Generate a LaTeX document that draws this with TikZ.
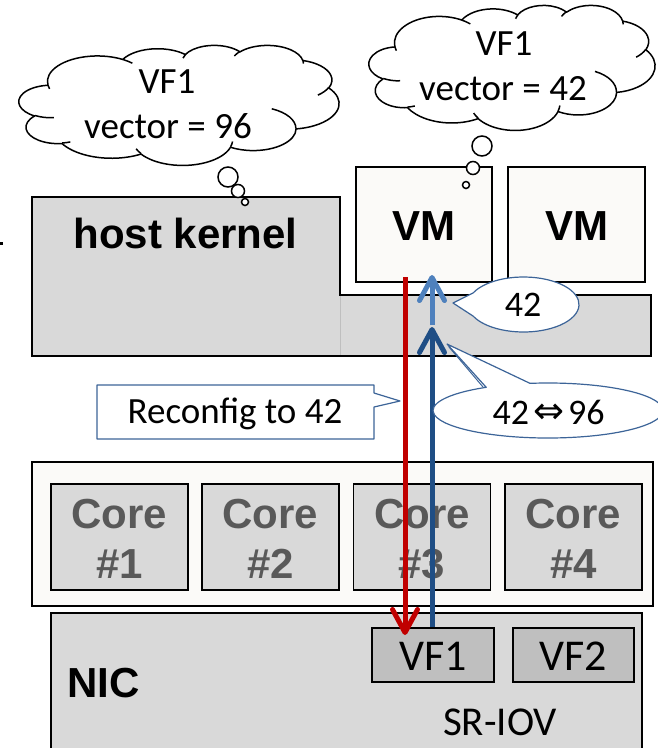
\documentclass[tikz,border=0pt]{standalone}
\usepackage{fontspec}
\setmainfont{Carlito}
\newfontfamily\arialfont{Liberation Sans}
\newfontfamily\symfont{DejaVu Sans}
\usetikzlibrary{arrows.meta}

\definecolor{boxgray}{HTML}{D9D9D9}
\definecolor{vfgray}{HTML}{BFBFBF}
\definecolor{offwhite}{HTML}{FBFAF8}
\definecolor{coretext}{HTML}{595959}
\definecolor{redarr}{HTML}{C00000}
\definecolor{lightarr}{HTML}{4F81BD}
\definecolor{darkarr}{HTML}{1F4E85}
\definecolor{callline}{HTML}{3C6498}

\tikzset{
  box/.style={draw=black, line width=2pt, inner sep=0pt, rectangle},
  vmbox/.style={box, fill=offwhite},
  corebox/.style={box, line width=1.6pt, fill=boxgray},
  vfbox/.style={box, line width=1.4pt, fill=vfgray},
  boldlbl/.style={font=\arialfont\bfseries\fontsize{42}{50}\selectfont, anchor=base, inner sep=0pt},
  corelbl/.style={boldlbl, text=coretext},
  lbl/.style={font=\fontsize{37}{44}\selectfont, anchor=base, inner sep=0pt},
  arrowline/.style={line width=5pt, -{Straight Barb[length=23pt,width=25pt,round]}},
  calloutshape/.style={draw=callline, line width=1.2pt, fill=white, line join=round},
  bubble/.style={draw=black, line width=1.5pt, fill=white, circle, inner sep=0pt},
  cloudline/.style={draw=black, line width=1.5pt, line join=round},
}

% elliptical arc given as radii, start angle and sweep, where the angles
% are directions seen from the centre (converted to parametric angles)
\newcommand\puffarc[4]{%
  \pgfextra{%
    \pgfmathsetmacro\puffa{atan2(#1*sin(#3), #2*cos(#3))}%
    \pgfmathsetmacro\puffbraw{atan2(#1*sin(#3+#4), #2*cos(#3+#4))}%
    \pgfmathsetmacro\puffb{#4>0 ? \puffa + mod(\puffbraw-\puffa+720,360) : \puffa - mod(\puffa-\puffbraw+720,360)}%
  }%
  arc[start angle=\puffa, end angle=\puffb, x radius=#1, y radius=#2]}

% thought cloud drawn in a 432 x 432 unit box
\newcommand\thoughtcloud{%
  \filldraw[cloudline, fill=white] (39.00,143.70)
    \puffarc{67.53}{91.90}{-190.487}{123.781}
    \puffarc{53.33}{72.67}{-144.102}{89.945}
    \puffarc{43.65}{59.45}{-145.808}{99.723}
    \puffarc{48.57}{65.95}{-130.986}{117.242}
    \puffarc{53.33}{72.73}{-78.709}{109.027}
    \puffarc{67.75}{92.20}{-46.267}{130.269}
    \puffarc{57.85}{78.67}{0.625}{114.033}
    \puffarc{67.52}{92.15}{22.452}{115.173}
    \puffarc{77.20}{105.43}{66.243}{75.711}
    \puffarc{43.60}{59.18}{-274.942}{146.736}
    \puffarc{43.45}{59.45}{-246.829}{152.519} -- cycle;
  \draw[cloudline]
    (46.93,261.77) \puffarc{43.45}{59.45}{86.742}{26.430}
    (69.28,348.99) \puffarc{43.60}{59.18}{73.611}{11.447}
    (164.78,390.90) \puffarc{67.52}{92.15}{137.624}{14.081}
    (288.27,347.51) \puffarc{67.52}{92.15}{6.453}{15.998}
    (341.29,229.54) \puffarc{57.85}{78.67}{-70.292}{70.917}
    (417.98,153.54) \puffarc{53.33}{72.73}{30.318}{27.752}
    (383.24,54.26) \puffarc{48.57}{65.95}{-13.744}{14.859}
    (290.78,39.52) \puffarc{48.57}{65.95}{-149.181}{18.195}
    (221.41,47.20) \puffarc{43.65}{59.45}{-163.494}{17.686}
    (140.00,51.92) \puffarc{67.53}{91.90}{-66.707}{12.319}
    (41.27,157.89) \puffarc{67.53}{91.90}{157.654}{11.858};
}

\begin{document}
\begin{tikzpicture}[x=1pt,y=-1pt]
\clip (0,0) rectangle (658,748);
\useasboundingbox (0,0) rectangle (658,748);

% stray mark at the left edge
\fill[black] (0,242) rectangle (3,245);

% host kernel: stepped outline
\draw[line width=2pt, fill=boxgray, line join=miter]
  (32,197) -- (340,197) -- (340,295) -- (651,295) -- (651,356) -- (32,356) -- cycle;
\draw[line width=1pt, color=vfgray] (340,296) -- (340,355);
\node[boldlbl] (hk) at (185.5,248) {host kernel};

% virtual machines
\node[vmbox, minimum width=136pt, minimum height=115pt] (vm1) at (424,224.5) {};
\node[vmbox, minimum width=137pt, minimum height=115pt] (vm2) at (576.5,224.5) {};
\node[boldlbl] (vm1t) at (424,240) {VM};
\node[boldlbl] (vm2t) at (576.5,240) {VM};

% processor with four cores
\node[box, fill=offwhite, minimum width=621pt, minimum height=144pt] (cpu) at (342.5,534) {};
\foreach \i/\x in {1/119.5, 2/270.5, 3/422, 4/573.5}{
  \node[corebox, minimum width=137pt, minimum height=106pt] (core\i) at (\x,537) {};
  \node[corelbl] (core\i a) at (\x,528) {Core};
  \node[corelbl] (core\i b) at (\x,578) {\#\i};
}

% NIC with virtual functions
\node[box, line width=1.5pt, fill=boxgray, minimum width=591pt, minimum height=147pt] (nic) at (346.5,686.5) {};
\node[boldlbl, anchor=base west] (nict) at (67,697) {NIC};
\node[vfbox, minimum width=122pt, minimum height=54pt] (vf1) at (433,655) {};
\node[vfbox, minimum width=121pt, minimum height=54pt] (vf2) at (573.5,655) {};
\node[lbl, font=\fontsize{44}{50}\selectfont] (vf1t) at (433,670) {VF1};
\node[lbl, font=\fontsize{44}{50}\selectfont] (vf2t) at (573.5,670) {VF2};
\node[lbl, font=\fontsize{41}{48}\selectfont] (sriov) at (500,735) {SR-IOV};

% interrupt paths
\coordinate (redstart) at (405,277);
\coordinate (redend) at (405,635);
\coordinate (lbstart) at (432,325);
\coordinate (lbend) at (432,275);
\coordinate (dbstart) at (432,627);
\coordinate (dbend) at (432,327);
\draw[arrowline, color=redarr] (redstart) -- (redend);
\draw[arrowline, color=darkarr] (dbstart) -- (dbend);
\draw[arrowline, color=lightarr] (lbstart) -- (lbend);

% callouts
\draw[calloutshape] (97,385) -- (374,385) -- (374,393) -- (400,401) -- (374,407)
  -- (374,439) -- (97,439) -- cycle;
\node[lbl] (reconf) at (235,423) {Reconfig to 42};

\draw[calloutshape] (453,303)
  -- ({523.5+55.5*cos(205)},{304.5+27.5*sin(205)})
  arc[start angle=205, end angle=515, x radius=55.5, y radius=27.5] -- cycle;
\node[lbl, font=\fontsize{36}{42}\selectfont] (c42) at (523,316) {42};

\draw[calloutshape] (447,344)
  -- ({548+115*cos(261)},{410.5+27.5*sin(261)})
  arc[start angle=261, end angle=597.5, x radius=115, y radius=27.5] -- cycle;
\draw[draw=callline, line width=1pt] (449,347) -- (483,387);
\node[lbl, font=\fontsize{36}{42}\selectfont] (c4296) at (548.5,424)
  {42\hspace{4pt}{\symfont\fontsize{37}{40}\selectfont\raisebox{0.5pt}{⇔}}\hspace{4pt}96};

% thought clouds
\begin{scope}[shift={(19,45)}, x=0.74074pt, y=-0.27778pt]
  \thoughtcloud
\end{scope}
\node[lbl] (cL1) at (167,93) {VF1};
\node[lbl] (cL2) at (168,138) {vector = 96};
\node[bubble, minimum size=20pt] (bL1) at (228,177) {};
\node[bubble, minimum size=13pt] (bL2) at (238,191) {};
\node[bubble, minimum size=7pt] (bL3) at (245,202) {};

\begin{scope}[shift={(369,5)}, x=0.66204pt, y=-0.28935pt]
  \thoughtcloud
\end{scope}
\node[lbl] (cR1) at (504,55) {VF1};
\node[lbl] (cR2) at (503,100) {vector = 42};
\node[bubble, minimum size=20pt] (bR1) at (482,146) {};
\node[bubble, minimum size=13pt] (bR2) at (473,168) {};
\node[bubble, minimum size=7pt] (bR3) at (466,185) {};
\end{tikzpicture}
\end{document}
